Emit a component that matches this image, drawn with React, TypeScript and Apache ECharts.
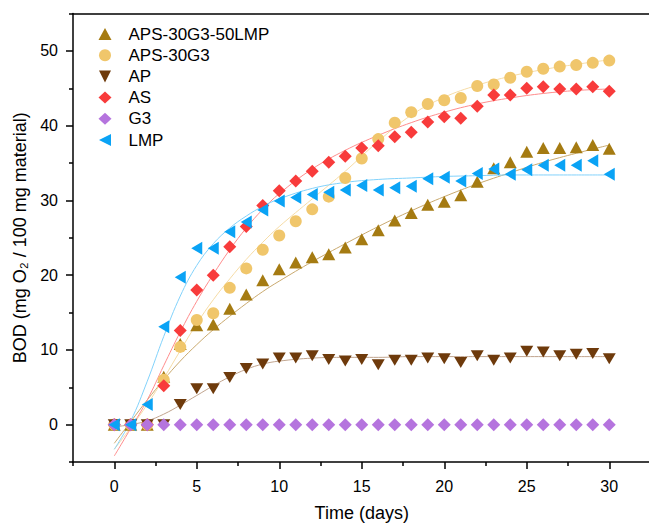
import React, { useEffect, useRef } from "react";
import * as echarts from "echarts";

// ---- data ----
const days = [0, 1, 2, 3, 4, 5, 6, 7, 8, 9, 10, 11, 12, 13, 14, 15, 16, 17, 18, 19, 20, 21, 22, 23, 24, 25, 26, 27, 28, 29, 30];

const seriesNames = ["APS-30G3-50LMP", "APS-30G3", "AP", "AS", "G3", "LMP"];

const aps30g3_50lmp = [0, 0, 0, 6.4, 10.8, 13.3, 13.4, 15.5, 17.4, 19.3, 20.8, 21.7, 22.4, 22.8, 23.7, 24.8, 26.0, 27.3, 28.3, 29.4, 29.8, 30.7, 32.5, 34.3, 35.1, 36.5, 37.0, 37.0, 37.1, 37.4, 36.9];
const aps30g3 = [0, 0, 0, 6.0, 10.4, 14.0, 14.9, 18.3, 20.9, 23.4, 25.3, 27.2, 28.8, 30.5, 33.0, 35.6, 38.2, 40.4, 41.8, 42.9, 43.4, 43.7, 45.3, 45.5, 46.4, 47.2, 47.6, 47.9, 48.1, 48.4, 48.7];
const ap = [0, 0, 0, 0, 2.7, 4.8, 4.8, 6.3, 7.5, 8.1, 8.9, 8.9, 9.2, 8.7, 8.5, 8.7, 8.0, 8.6, 8.6, 8.9, 8.8, 8.3, 9.2, 8.6, 8.9, 9.8, 9.7, 9.2, 9.4, 9.5, 8.8];
const as = [0, 0, 0, 5.2, 12.6, 18.0, 20.0, 23.8, 26.5, 29.3, 31.3, 32.6, 33.9, 35.1, 35.9, 37.0, 37.3, 38.5, 39.1, 40.5, 41.2, 41.0, 42.6, 44.1, 44.1, 45.0, 45.2, 44.9, 44.9, 45.2, 44.6];
const g3 = [0, 0, 0, 0, 0, 0, 0, 0, 0, 0, 0, 0, 0, 0, 0, 0, 0, 0, 0, 0, 0, 0, 0, 0, 0, 0, 0, 0, 0, 0, 0];
const lmp = [0, 0, 2.7, 13.1, 19.7, 23.6, 23.6, 25.8, 27.1, 28.7, 29.9, 30.4, 30.8, 31.1, 31.4, 32.0, 31.4, 31.7, 31.9, 32.9, 33.1, 32.6, 33.6, 34.2, 33.5, 34.1, 34.7, 34.7, 34.7, 35.3, 33.5];

// fitted curves
const fitDays = [0, 1, 2, 3, 4, 5, 6, 7, 8, 9, 10, 12, 14, 16, 18, 20, 22, 24, 26, 28, 30];
const fitAps30g3_50lmp = [-2.5, 0.4, 3.3, 6.0, 8.5, 10.7, 12.7, 14.5, 16.2, 17.8, 19.2, 21.8, 24.2, 26.5, 28.6, 30.5, 32.2, 33.7, 35.1, 36.3, 37.4];
const fitAps30g3 = [-3.3, -0.4, 2.7, 6.2, 9.9, 13.5, 16.7, 19.5, 22.1, 24.4, 26.5, 30.2, 33.9, 37.9, 41.4, 43.8, 45.4, 46.6, 47.5, 48.2, 48.8];
const fitAp = [-0.3, 0.0, 0.5, 1.4, 2.6, 3.9, 5.2, 6.4, 7.4, 8.1, 8.5, 8.9, 9.0, 9.0, 9.1, 9.1, 9.1, 9.1, 9.1, 9.1, 9.1];
const fitAs = [-4.2, -0.5, 3.3, 7.9, 12.4, 16.5, 20.1, 23.4, 26.3, 28.8, 30.9, 34.2, 36.7, 38.7, 40.4, 41.8, 42.9, 43.7, 44.3, 44.7, 44.9];
const fitLmp = [-3.3, 0.5, 5.8, 11.8, 17.2, 21.3, 24.2, 26.3, 27.9, 29.2, 30.2, 31.6, 32.4, 32.8, 33.0, 33.2, 33.3, 33.4, 33.4, 33.4, 33.4];

// ticks
const xMajorTicks = [0, 5, 10, 15, 20, 25, 30];
const xMinorTicks = [-2.5, 2.5, 7.5, 12.5, 17.5, 22.5, 27.5, 32.5];
const yMajorTicks = [0, 10, 20, 30, 40, 50];
const yMinorTicks = [-5, 5, 15, 25, 35, 45, 55];

const markerColors = ["#A57B12", "#F0C66B", "#6E3A0B", "#F83B3B", "#B574DE", "#0AA3F5"];
const fitColors = ["#C9A96E", "#F6DCA6", "#C0A48E", "#FF8C8C", "#82D2FB"];

const DOWN_TRI = "path://M0,0 L10,0 L5,10 Z";
const LEFT_TRI = "path://M10,0 L10,10 L0,5 Z";

const pair = (xs: number[], ys: number[]) => xs.map((x, i) => [x, ys[i]]);

export default function App() {
  const ref = useRef<HTMLDivElement>(null);
  useEffect(() => {
    if (!ref.current) return;
    const chart = echarts.init(ref.current, undefined, { renderer: "svg" });
    const font = "'Liberation Sans', Arial, sans-serif";
    const axisLineStyle = { color: "#000", width: 1.5 };
    const scatterDefs = [
      { data: aps30g3_50lmp, symbol: "triangle", size: [13, 12] },
      { data: aps30g3, symbol: "circle", size: 12 },
      { data: ap, symbol: DOWN_TRI, size: [13, 11] },
      { data: as, symbol: "diamond", size: [13, 13] },
      { data: g3, symbol: "diamond", size: [13, 13] },
      { data: lmp, symbol: LEFT_TRI, size: [11, 13] },
    ];
    const fits = [fitAps30g3_50lmp, fitAps30g3, fitAp, fitAs, fitLmp];
    const fitLabels = ["fit APS-30G3-50LMP", "fit APS-30G3", "fit AP", "fit AS", "fit LMP"];

    const series: any[] = [];
    fits.forEach((f, i) => {
      series.push({
        name: fitLabels[i],
        type: "line",
        data: pair(fitDays, f),
        smooth: 0.4,
        showSymbol: false,
        symbol: "none",
        lineStyle: { color: fitColors[i], width: 1 },
        z: 2,
        silent: true,
      });
    });
    scatterDefs.forEach((d, i) => {
      series.push({
        name: seriesNames[i],
        type: "scatter",
        data: pair(days, d.data),
        symbol: d.symbol,
        symbolSize: d.size,
        itemStyle: { color: markerColors[i], opacity: 1 },
        z: 3 + i,
      });
    });

    chart.setOption({
      animation: false,
      textStyle: { fontFamily: font },
      grid: { left: 73, top: 13.5, width: 577.5, height: 452.5, containLabel: false },
      legend: {
        orient: "vertical",
        left: 98.5,
        top: 25.5,
        padding: 0,
        itemGap: 4.2,
        itemWidth: 13,
        itemHeight: 12,
        selectedMode: false,
        data: seriesNames,
        textStyle: { fontSize: 17, color: "#000", lineHeight: 17, fontFamily: font, padding: [0, 0, 0, 12] },
      },
      xAxis: [
        {
          type: "value",
          min: -2.5,
          max: 32.5,
          position: "bottom",
          axisLine: { show: true, onZero: false, lineStyle: axisLineStyle },
          axisTick: { show: true, length: 7, lineStyle: axisLineStyle, customValues: xMajorTicks },
          axisLabel: { customValues: xMajorTicks, fontSize: 16, color: "#000", margin: 16, fontFamily: font },
          splitLine: { show: false },
          name: "Time (days)",
          nameLocation: "middle",
          nameGap: 42,
          nameTextStyle: { fontSize: 18, color: "#000", fontFamily: font },
        },
        {
          type: "value",
          min: -2.5,
          max: 32.5,
          position: "bottom",
          axisLine: { show: false, onZero: false },
          axisTick: { show: true, length: 4, lineStyle: axisLineStyle, customValues: xMinorTicks },
          axisLabel: { show: false },
          splitLine: { show: false },
        },
        {
          type: "value",
          min: -2.5,
          max: 32.5,
          position: "top",
          axisLine: { show: true, onZero: false, lineStyle: axisLineStyle },
          axisTick: { show: false },
          axisLabel: { show: false },
          splitLine: { show: false },
        },
      ],
      yAxis: [
        {
          type: "value",
          min: -5,
          max: 55,
          position: "left",
          axisLine: { show: true, onZero: false, lineStyle: axisLineStyle },
          axisTick: { show: true, length: 7, lineStyle: axisLineStyle, customValues: yMajorTicks },
          axisLabel: { customValues: yMajorTicks, fontSize: 16, color: "#000", margin: 15, fontFamily: font },
          splitLine: { show: false },
          name: "BOD (mg O₂ / 100 mg material)",
          nameLocation: "middle",
          nameGap: 44,
          nameTextStyle: { fontSize: 18, color: "#000", fontFamily: font },
        },
        {
          type: "value",
          min: -5,
          max: 55,
          position: "left",
          axisLine: { show: false, onZero: false },
          axisTick: { show: true, length: 4, lineStyle: axisLineStyle, customValues: yMinorTicks },
          axisLabel: { show: false },
          splitLine: { show: false },
        },
      ],
      series,
    });
    return () => chart.dispose();
  }, []);
  return (
    <div
      ref={ref}
      style={{ position: "fixed", left: 0, top: 0, width: 662, height: 527, background: "#fff" }}
    />
  );
}
